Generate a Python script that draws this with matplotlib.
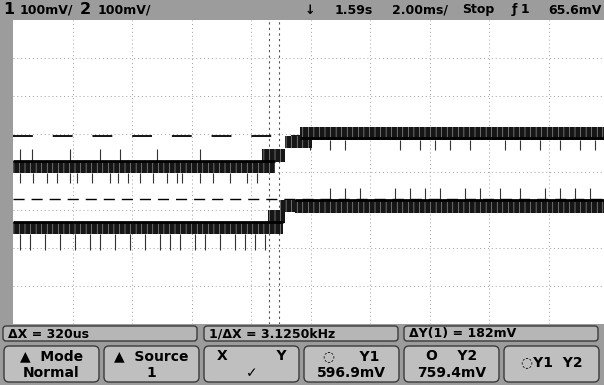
import numpy as np
import matplotlib
matplotlib.use("Agg")
import matplotlib.pyplot as plt
from matplotlib.patches import FancyBboxPatch

plt.rcParams['hatch.linewidth'] = 0.4

# screen geometry: 10 x 8 divisions
XMAX = 9.93
# cursor positions (divisions)
x_cursors = [4.30, 4.47]
y1_cursor = 0.95
y2_cursor = -0.71

# channel 1 trace bands: x start, x end, top, bottom (divisions)
ch1_x0 = [0.0, 4.18, 4.57, 4.82]
ch1_x1 = [4.40, 4.57, 5.03, XMAX]
ch1_top = [0.30, 0.61, 0.95, 1.18]
ch1_bot = [-0.03, 0.26, 0.63, 0.84]

# channel 2 trace bands
ch2_x0 = [0.0, 4.29, 4.49, 4.74]
ch2_x1 = [4.54, 4.57, 4.82, XMAX]
ch2_top = [-1.32, -1.00, -0.74, -0.74]
ch2_bot = [-1.63, -1.34, -1.05, -1.08]

# glitch spikes sticking out of the bands
ch1_spk_down = [0.12, 0.34, 0.57, 0.74, 0.96, 1.08, 1.33, 1.63, 1.76, 1.93, 2.13,
                2.35, 2.59, 2.76, 2.84, 3.14, 3.36, 3.65, 3.93, 4.10]
ch1_spk_up = [0.12, 0.32, 0.96, 1.46, 1.80, 2.42, 3.14]
ch2_spk_down = [0.12, 0.29, 0.54, 0.79, 1.04, 1.29, 1.46, 1.71, 1.97, 2.22, 2.47,
                2.64, 2.81, 3.06, 3.23, 3.48, 3.73, 3.90, 4.07, 4.24]
ch1r_spk_down = [4.99, 5.33, 5.58, 6.50, 6.84, 7.09, 7.34, 7.68, 8.27, 8.52, 8.86,
                 9.19, 9.53, 9.78]
ch2r_spk_up = [5.33, 5.58, 5.83, 6.42, 6.67, 6.92, 7.18, 7.60, 7.85, 8.18, 8.52,
               8.94, 9.19, 9.45, 9.70]

top_left = [("1", 3, 11.5), ("100mV/", 20, 9), ("2", 80, 11.5), ("100mV/", 98, 9)]
top_right = [("\u2193", 305, 9), ("1.59s", 335, 9), ("2.00ms/", 392, 9),
             ("Stop", 462, 9), ("\u0192 1", 512, 9), ("65.6mV", 548, 9)]
status = ["\u0394X = 320us", "1/\u0394X = 3.1250kHz", "\u0394Y(1) = 182mV"]
keys = [("\u25B2  Mode", "Normal"), ("\u25B2  Source", "1"), ("X          Y", "\u2713"),
        ("\u25CC     Y1", "596.9mV"), ("O    Y2", "759.4mV"), ("\u25CCY1  Y2", "")]

BG = '#9c9c9c'
fig = plt.figure(figsize=(6.04, 3.85), dpi=100, facecolor=BG)

# pixel overlay for bars, boxes and text
ov = fig.add_axes([0, 0, 1, 1], zorder=0)
ov.set_xlim(0, 604)
ov.set_ylim(385, 0)
ov.axis('off')

for txt, x, fs in top_left + top_right:
    ov.text(x, 10, txt, fontsize=fs, fontweight='bold', va='center', ha='left')

# status row
box_x = [3, 204, 404]
for i, txt in enumerate(status):
    ov.add_patch(FancyBboxPatch((box_x[i], 326), 194, 15,
                                boxstyle='round,pad=0,rounding_size=3',
                                fc='#b6b6b6', ec='#3a3a3a', lw=1))
    ov.text(box_x[i] + 5, 334, txt, fontsize=9, fontweight='bold', va='center')

# softkeys
for i, (l1, l2) in enumerate(keys):
    x0 = 4 + i * 100
    ov.add_patch(FancyBboxPatch((x0, 346), 95, 36,
                                boxstyle='round,pad=0,rounding_size=5',
                                fc='#bfbfbf', ec='#3a3a3a', lw=1))
    cx = x0 + 47.5
    if l2:
        ov.text(cx, 356, l1, fontsize=10, fontweight='bold', ha='center', va='center')
        ov.text(cx, 373, l2, fontsize=10, fontweight='bold', ha='center', va='center')
    else:
        ov.text(cx, 362, l1, fontsize=10, fontweight='bold', ha='center', va='center')

# scope graticule
ax = fig.add_axes([13 / 604, 61 / 385, 591 / 604, 304 / 385], zorder=1)
ax.set_facecolor('white')
ax.set_xlim(0, XMAX)
ax.set_ylim(-4, 4)
ax.set_xticks([])
ax.set_yticks([])
for s in ax.spines.values():
    s.set_visible(False)
for k in range(1, 10):
    ax.axvline(k, color='#a0a0a0', lw=0.7, ls=(0, (1, 3)))
for j in range(-3, 4):
    ax.axhline(j, color='#a0a0a0', lw=0.7, ls=(0, (1, 3)))

# cursors
for xc in x_cursors:
    ax.axvline(xc, color='#555555', lw=0.8, ls=(0, (2, 3)))
ax.axhline(y1_cursor, color='black', lw=1.3, ls=(0, (11, 11)))
ax.axhline(y2_cursor, color='black', lw=1.0, ls=(0, (8, 5)))

# traces
for xs0, xs1, tops, bots in [(ch1_x0, ch1_x1, ch1_top, ch1_bot),
                             (ch2_x0, ch2_x1, ch2_top, ch2_bot)]:
    for a, b, t, bt in zip(xs0, xs1, tops, bots):
        ax.fill_between([a, b], [bt, bt], [t, t], facecolor='#161616',
                        edgecolor='#b0b0b0', hatch='|||', lw=0, zorder=3)

ax.hlines(ch1_top[0], 0, ch1_x1[0], color='black', lw=2, zorder=4)
ax.hlines(0.90, ch1_x0[3], XMAX, color='black', lw=2, zorder=4)
ax.hlines(ch2_top[0], 0, ch2_x1[0], color='black', lw=2, zorder=4)
ax.hlines(ch2_top[3], ch2_x0[3], XMAX, color='black', lw=2, zorder=4)

ax.vlines(ch1_spk_down, -0.30, ch1_bot[0], color='#333333', lw=0.8, zorder=2)
ax.vlines(ch1_spk_up, ch1_top[0], 0.60, color='#333333', lw=0.8, zorder=2)
ax.vlines(ch2_spk_down, -2.05, ch2_bot[0], color='#333333', lw=0.8, zorder=2)
ax.vlines(ch1r_spk_down, 0.58, ch1_bot[3], color='#333333', lw=0.8, zorder=2)
ax.vlines(ch2r_spk_up, ch2_top[3], -0.42, color='#333333', lw=0.8, zorder=2)

fig.savefig('out.png', dpi=100, facecolor=BG)
